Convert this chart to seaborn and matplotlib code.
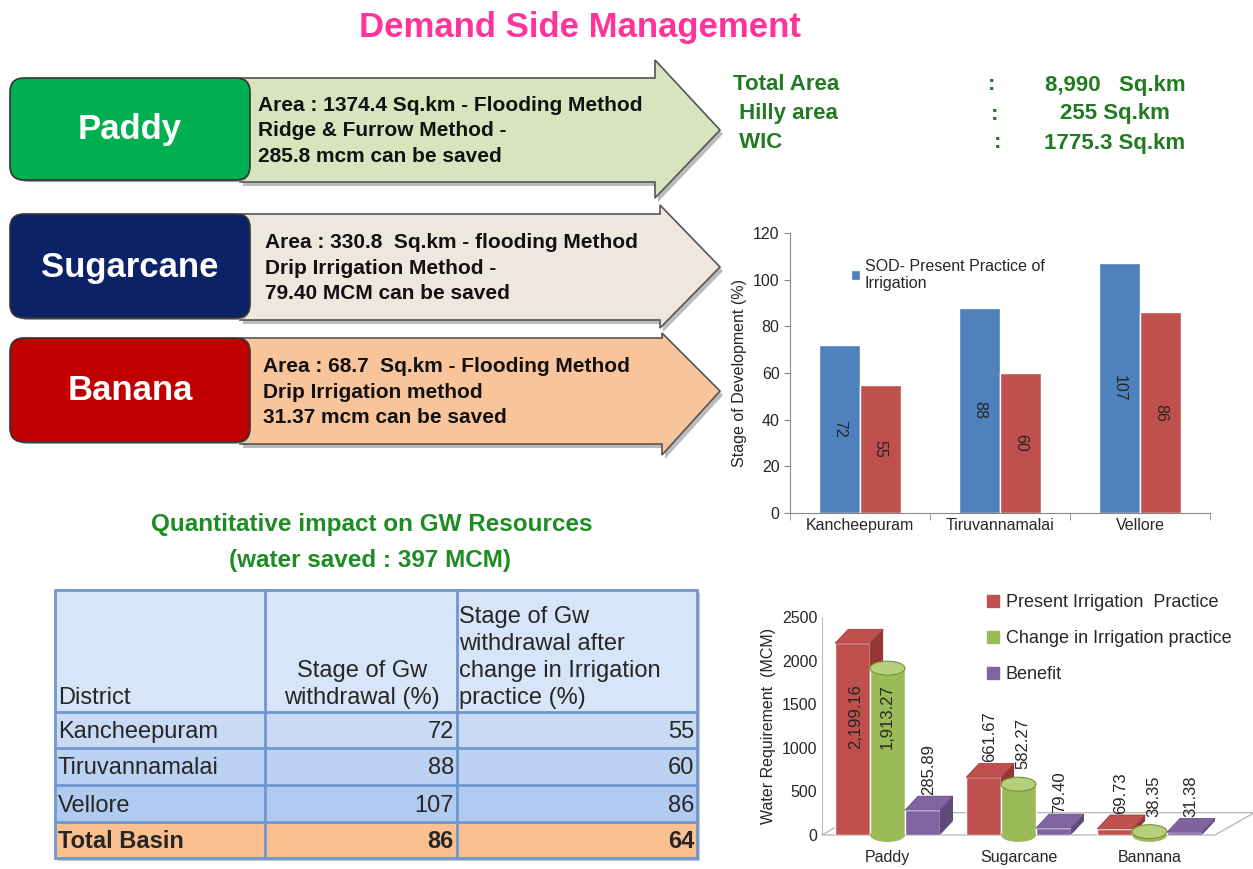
import matplotlib.pyplot as plt
import pandas as pd
import seaborn as sns
from matplotlib.patches import Polygon, FancyBboxPatch, Rectangle, Ellipse
from matplotlib.lines import Line2D

# data
districts = ['Kancheepuram', 'Tiruvannamalai', 'Vellore']
sod_present = [72, 88, 107]
sod_after = [55, 60, 86]
total_label = 'Total Basin'
total_basin = [86, 64]

crops = ['Paddy', 'Sugarcane', 'Bannana']
present_req = [2199.16, 661.67, 69.73]
changed_req = [1913.27, 582.27, 38.35]
benefit = [285.89, 79.40, 31.38]
req_series = ['Present Irrigation  Practice', 'Change in Irrigation practice', 'Benefit']

box_names = ['Paddy', 'Sugarcane', 'Banana']
box_notes = [
    'Area : 1374.4 Sq.km - Flooding Method\nRidge & Furrow Method -\n285.8 mcm can be saved',
    'Area : 330.8  Sq.km - flooding Method\nDrip Irrigation Method -\n79.40 MCM can be saved',
    'Area : 68.7  Sq.km - Flooding Method\nDrip Irrigation method\n31.37 mcm can be saved',
]
area_names = ['Total Area', ' Hilly area', ' WIC']
area_values = ['8,990   Sq.km', '255 Sq.km', '1775.3 Sq.km']

sns.set_style('white')
plt.rcParams['font.family'] = ['Liberation Sans', 'DejaVu Sans']

fig = plt.figure(figsize=(12.53, 8.69), dpi=100)

# canvas axes in pixel units for the infographic parts
ax0 = fig.add_axes([0, 0, 1, 1])
ax0.set_xlim(0, 1253)
ax0.set_ylim(869, 0)
ax0.axis('off')

ax0.text(580, 28, 'Demand Side Management', ha='center', va='center',
         fontsize=25, fontweight='bold', color='#FF3399')

# arrows with coloured boxes
rows = [
    dict(top=78, bot=182, hx=655, ht=60, hb=198, box='#00B050', fill='#D7E4BD', tx=258),
    dict(top=214, bot=320, hx=660, ht=205, hb=328, box='#0B2366', fill='#EDE7DD', tx=265),
    dict(top=338, bot=444, hx=662, ht=333, hb=455, box='#C00000', fill='#F9C49A', tx=263),
]
for r, name, note in zip(rows, box_names, box_notes):
    mid = (r['top'] + r['bot']) / 2
    pts = [(240, r['top']), (r['hx'], r['top']), (r['hx'], r['ht']), (720, mid),
           (r['hx'], r['hb']), (r['hx'], r['bot']), (240, r['bot'])]
    shadow = [(x + 3, y + 4) for x, y in pts]
    ax0.add_patch(Polygon(shadow, closed=True, fc='#BBBBBB', ec='none', zorder=1))
    ax0.add_patch(Polygon(pts, closed=True, fc=r['fill'], ec='#555555', lw=1.2, zorder=2))
    ax0.add_patch(FancyBboxPatch((14, r['top'] + 4), 236, r['bot'] - r['top'] - 4,
                                 boxstyle='round,pad=0,rounding_size=14',
                                 fc='#999999', ec='none', zorder=3))
    ax0.add_patch(FancyBboxPatch((10, r['top']), 240, r['bot'] - r['top'] - 2,
                                 boxstyle='round,pad=0,rounding_size=14',
                                 fc=r['box'], ec='#333333', lw=1.2, zorder=4))
    ax0.text(130, mid, name, ha='center', va='center', fontsize=25,
             fontweight='bold', color='white', zorder=6)
    ax0.text(r['tx'], mid + 1, note, ha='left', va='center', fontsize=15,
             fontweight='bold', color='#111111', linespacing=1.45, zorder=6)

# area summary
green = '#217A21'
for i, (nm, val) in enumerate(zip(area_names, area_values)):
    y = 85 + i * 29
    ax0.text(733, y, nm, ha='left', va='center', fontsize=16, fontweight='bold', color=green)
    ax0.text(992 + 3 * i, y, ':', ha='center', va='center', fontsize=16, fontweight='bold', color=green)
    ax0.text(1115, y, val, ha='center', va='center', fontsize=16, fontweight='bold', color=green)

# table
tgreen = '#1E8B24'
ax0.text(372, 524, 'Quantitative impact on GW Resources', ha='center', va='center',
         fontsize=17.5, fontweight='bold', color=tgreen)
ax0.text(370, 560, '(water saved : 397 MCM)', ha='center', va='center',
         fontsize=17.5, fontweight='bold', color=tgreen)

xs = [55, 265, 457, 697]
ys = [590, 712, 748, 785, 822, 858]
fills = ['#D8E4F7', '#C8DAF4', '#BCD2F2', '#B1CAF0', '#FAC090']
ax0.add_patch(Rectangle((xs[0] + 3, ys[0] + 3), xs[-1] - xs[0], ys[-1] - ys[0],
                        fc='#C8C8C8', ec='none', zorder=1))
for i in range(5):
    ax0.add_patch(Rectangle((xs[0], ys[i]), xs[-1] - xs[0], ys[i + 1] - ys[i],
                            fc=fills[i], ec='none', zorder=2))
for x in xs:
    ax0.plot([x, x], [ys[0], ys[-1]], color='#6F97CF', lw=2, zorder=3)
for y in ys:
    ax0.plot([xs[0], xs[-1]], [y, y], color='#6F97CF', lw=2, zorder=3)

tfs = 17
ax0.text(58, 709, 'District', ha='left', va='bottom', fontsize=tfs, zorder=4)
ax0.text(362, 709, 'Stage of Gw\nwithdrawal (%)', ha='center', va='bottom',
         fontsize=tfs, linespacing=1.3, zorder=4)
ax0.text(459, 709, 'Stage of Gw\nwithdrawal after\nchange in Irrigation\npractice (%)',
         ha='left', va='bottom', fontsize=tfs, linespacing=1.3, zorder=4)
row_names = districts + [total_label]
col1 = sod_present + [total_basin[0]]
col2 = sod_after + [total_basin[1]]
for i, (nm, a, b) in enumerate(zip(row_names, col1, col2)):
    yc = (ys[i + 1] + ys[i + 2]) / 2 + 2
    bold = 'bold' if nm == total_label else 'normal'
    ax0.text(58, yc, nm, ha='left', va='center', fontsize=tfs, fontweight=bold, zorder=4)
    ax0.text(454, yc, str(a), ha='right', va='center', fontsize=tfs, fontweight=bold, zorder=4)
    ax0.text(694, yc, str(b), ha='right', va='center', fontsize=tfs, fontweight=bold, zorder=4)

# chart 1: stage of development
df1 = pd.DataFrame({
    'District': districts * 2,
    'Series': ['SOD- Present Practice of\nIrrigation'] * 3 + ['SOD after change'] * 3,
    'Value': sod_present + sod_after,
})
ax1 = fig.add_axes([790 / 1253, 1 - 513 / 869, 420 / 1253, 280 / 869])
sns.barplot(data=df1, x='District', y='Value', hue='Series', palette=['#4F81BD', '#C0504D'],
            width=0.58, saturation=1, edgecolor='white', linewidth=1, ax=ax1)
ax1.set_ylim(0, 120)
ax1.set_xlim(-0.5, 2.5)
ax1.set_yticks(range(0, 121, 20))
ax1.set_xlabel('')
ax1.set_ylabel('Stage of Development (%)', fontsize=11.5)
ax1.tick_params(axis='both', labelsize=11.5, length=0)
ax1.set_xticks([-0.5, 0.5, 1.5, 2.5], minor=True)
ax1.tick_params(axis='x', which='minor', length=5, color='#888888', direction='out', bottom=True)
ax1.tick_params(axis='y', length=4, color='#888888', direction='out', left=True)
for s in ['top', 'right']:
    ax1.spines[s].set_visible(False)
for s in ['left', 'bottom']:
    ax1.spines[s].set_color('#888888')
for cont in ax1.containers:
    for p in cont:
        ax1.text(p.get_x() + p.get_width() / 2, p.get_height() / 2, f'{p.get_height():.0f}',
                 ha='center', va='center', rotation=270, fontsize=11.5)
h, l = ax1.get_legend_handles_labels()
ax1.legend(h[:1], l[:1], loc='upper left', bbox_to_anchor=(0.11, 0.96), frameon=False,
           fontsize=11.5, handlelength=0.6, handleheight=0.6, handletextpad=0.3)

# chart 2: water requirement
df2 = pd.DataFrame({
    'Crop': crops * 3,
    'Series': [req_series[0]] * 3 + [req_series[1]] * 3 + [req_series[2]] * 3,
    'Value': present_req + changed_req + benefit,
})
cols2 = ['#C0504D', '#9BBB59', '#8064A2']
dark2 = ['#953735', '#76923C', '#5F497A']
ax2 = fig.add_axes([822 / 1253, 1 - 835 / 869, 393 / 1253, 218 / 869])
sns.barplot(data=df2, x='Crop', y='Value', hue='Series', palette=cols2, width=0.8,
            saturation=1, ax=ax2, legend=False)
ax2.set_ylim(0, 2500)
ax2.set_xlim(-0.5, 2.5)
ax2.set_yticks(range(0, 2501, 500))
ax2.set_xlabel('')
ax2.set_ylabel('Water Requirement  (MCM)', fontsize=11.5)
ax2.tick_params(axis='both', labelsize=11.5, length=0)
ax2.tick_params(axis='x', pad=11)
for s in ['top', 'right', 'bottom']:
    ax2.spines[s].set_visible(False)
ax2.spines['left'].set_color('#BBBBBB')

dx, dy = 0.1, 160
floor = [(-0.5, 0), (-0.5 + 3 * dx, 2 * dy * 0.8), (2.5 + 3 * dx, 2 * dy * 0.8), (2.5, 0)]
ax2.add_patch(Polygon(floor, closed=True, fc='white', ec='#BBBBBB', lw=1, clip_on=False, zorder=0.5))
for k, cont in enumerate(ax2.containers):
    for p in cont:
        p.set_zorder(2 + k)
        x, w, hgt = p.get_x(), p.get_width(), p.get_height()
        if k == 1:
            ax2.add_patch(Ellipse((x + w / 2, 0), w, dy, fc=cols2[k], ec='none', zorder=2 + k, clip_on=False))
            ax2.add_patch(Ellipse((x + w / 2, hgt), w, dy, fc='#B5CF7A', ec=dark2[k], lw=0.8,
                                  zorder=2 + k, clip_on=False))
        else:
            top = [(x, hgt), (x + dx, hgt + dy), (x + w + dx, hgt + dy), (x + w, hgt)]
            side = [(x + w, 0), (x + w + dx, dy), (x + w + dx, hgt + dy), (x + w, hgt)]
            ax2.add_patch(Polygon(side, closed=True, fc=dark2[k], ec='none', zorder=2 + k, clip_on=False))
            ax2.add_patch(Polygon(top, closed=True, fc=cols2[k], ec=dark2[k], lw=0.5,
                                  zorder=2 + k, clip_on=False))
        cx = x + w / 2 + (0.02 if k != 1 else 0)
        lab = f'{hgt:,.2f}'
        if hgt > 1500:
            ax2.text(cx, 1353, lab, ha='center', va='center', rotation=90, fontsize=12, zorder=10)
        else:
            ax2.text(cx + 0.03, hgt + 170, lab, ha='center', va='bottom', rotation=90,
                     fontsize=12, zorder=10, clip_on=False)

handles = [Line2D([], [], marker='s', ls='none', color=c, markersize=8) for c in cols2]
fig.legend(handles, req_series, loc='upper left', bbox_to_anchor=(968 / 1253, 1 - 578 / 869),
           frameon=False, fontsize=13, handletextpad=0.2, labelspacing=1.05, handlelength=1)

fig.savefig('out.png', dpi=100)
